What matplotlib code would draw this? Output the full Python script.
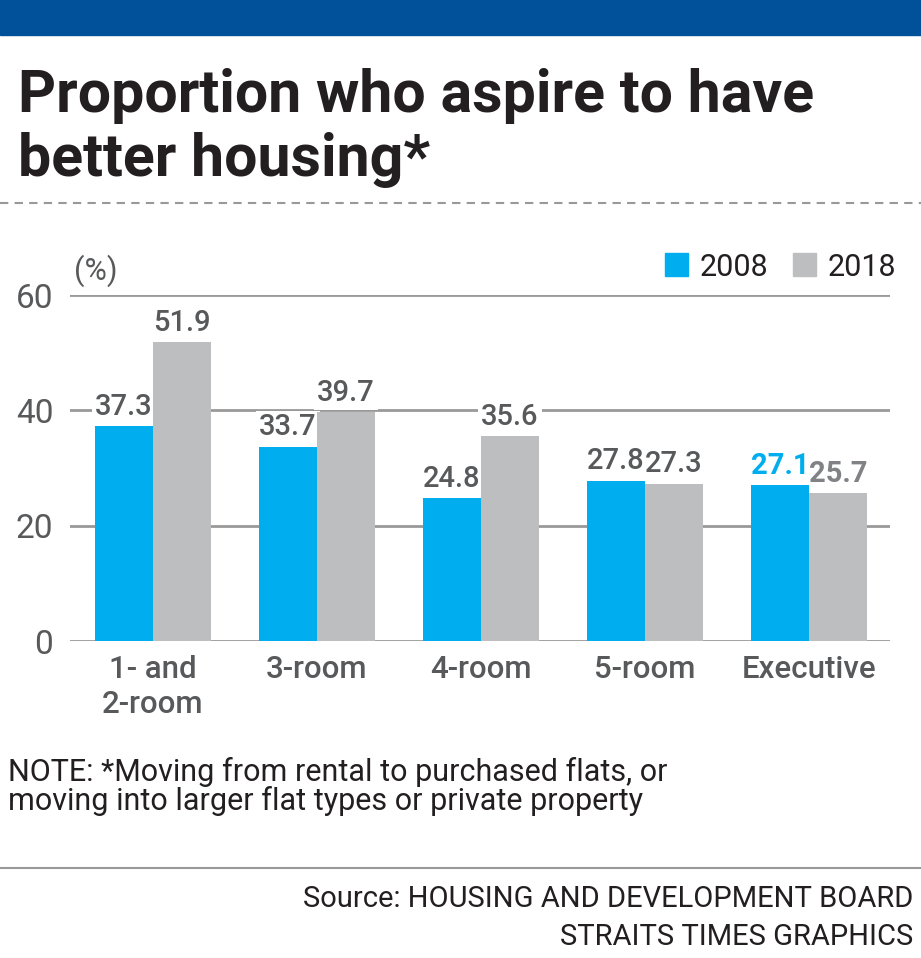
import numpy as np
import matplotlib.pyplot as plt
from matplotlib.patches import Rectangle
from matplotlib.lines import Line2D

categories = ["1- and\n2-room", "3-room", "4-room", "5-room", "Executive"]
values_2008 = [37.3, 33.7, 24.8, 27.8, 27.1]
values_2018 = [51.9, 39.7, 35.6, 27.3, 25.7]
series_names = ["2008", "2018"]
y_ticks = [0, 20, 40, 60]

BLUE = "#00AEEF"
GREY = "#BCBEC0"
TEXT_GREY = "#58595B"
FONTS = ["Roboto", "DejaVu Sans"]

W, H = 921, 958
fig = plt.figure(figsize=(W / 100, H / 100), dpi=100)


def fx(x):
    return x / W


def fy(y):
    return 1 - y / H


# header band
fig.patches.append(Rectangle((0, fy(35)), 1, 35 / H, transform=fig.transFigure,
                             color="#00519A", zorder=0))

fig.text(fx(18), fy(112), "Proportion who aspire to have", fontsize=42.5,
         fontweight="bold", color="#231F20", family=FONTS, va="baseline")
fig.text(fx(18), fy(176), "better housing*", fontsize=42.5,
         fontweight="bold", color="#231F20", family=FONTS, va="baseline")

fig.lines.append(Line2D([0, 1], [fy(203), fy(203)], transform=fig.transFigure,
                        color="#999999", lw=1.5, ls=(0, (4, 3))))

# chart
ax = fig.add_axes([fx(70), fy(641), fx(890) - fx(70), (641 - 295) / H])
x = np.arange(len(categories))
bw = 0.354
ax.bar(x - bw / 2, values_2008, bw, color=BLUE, zorder=3)
ax.bar(x + bw / 2, values_2018, bw, color=GREY, zorder=3)

labels = []
for i in range(len(categories)):
    exe = categories[i] == "Executive"
    labels.append((x[i] - bw / 2, values_2008[i], BLUE if exe else TEXT_GREY, exe))
    labels.append((x[i] + bw / 2, values_2018[i], "#808285" if exe else TEXT_GREY, exe))

for lx, v, col, exe in labels:
    kw = dict(ha="center", va="bottom", fontsize=21, family=FONTS,
              fontweight="bold" if exe else "medium")
    # white knock-out behind the label hides the gridline, stays under bars
    ax.text(lx, v + 0.9, f"{v:.1f}", color="white", zorder=2,
            bbox=dict(facecolor="white", edgecolor="none", pad=2), **kw)
    ax.text(lx, v + 0.9, f"{v:.1f}", color=col, zorder=5, **kw)

ax.set_xlim(-0.506, 4.494)
ax.set_ylim(0, 60)
ax.set_yticks(y_ticks)
ax.set_yticklabels([str(t) for t in y_ticks], fontsize=24, color=TEXT_GREY,
                   family=FONTS)
ax.set_xticks(x)
ax.set_xticklabels(categories, fontsize=22.5, fontweight="medium",
                   color=TEXT_GREY, family=FONTS, linespacing=1.25)
ax.tick_params(axis="y", length=0, pad=12)
ax.tick_params(axis="x", length=0, pad=10)
ax.yaxis.grid(True, color="#999999", lw=2, zorder=0)
ax.set_axisbelow(True)
for s in ax.spines.values():
    s.set_visible(False)

fig.text(fx(74), fy(280), "(%)", fontsize=22, color=TEXT_GREY, family=FONTS,
         va="baseline")

# legend
fig.patches.append(Rectangle((fx(665), fy(276)), 23 / W, 23 / H,
                             transform=fig.transFigure, color=BLUE))
fig.text(fx(700), fy(276), series_names[0], fontsize=22, color="#231F20",
         family=FONTS, va="baseline")
fig.patches.append(Rectangle((fx(793), fy(276)), 23 / W, 23 / H,
                             transform=fig.transFigure, color=GREY))
fig.text(fx(828), fy(276), series_names[1], fontsize=22, color="#231F20",
         family=FONTS, va="baseline")

fig.text(fx(8), fy(781), "NOTE: *Moving from rental to purchased flats, or",
         fontsize=22, color="#231F20", family=FONTS, va="baseline")
fig.text(fx(8), fy(810), "moving into larger flat types or private property",
         fontsize=22, color="#231F20", family=FONTS, va="baseline")

fig.lines.append(Line2D([0, 1], [fy(868), fy(868)], transform=fig.transFigure,
                        color="#999999", lw=1.5))

fig.text(fx(913), fy(907), "Source: HOUSING AND DEVELOPMENT BOARD",
         fontsize=21, color="#231F20", family=FONTS, va="baseline", ha="right")
fig.text(fx(913), fy(945), "STRAITS TIMES GRAPHICS",
         fontsize=21, color="#231F20", family=FONTS, va="baseline", ha="right")

fig.savefig("out.png", dpi=100)
